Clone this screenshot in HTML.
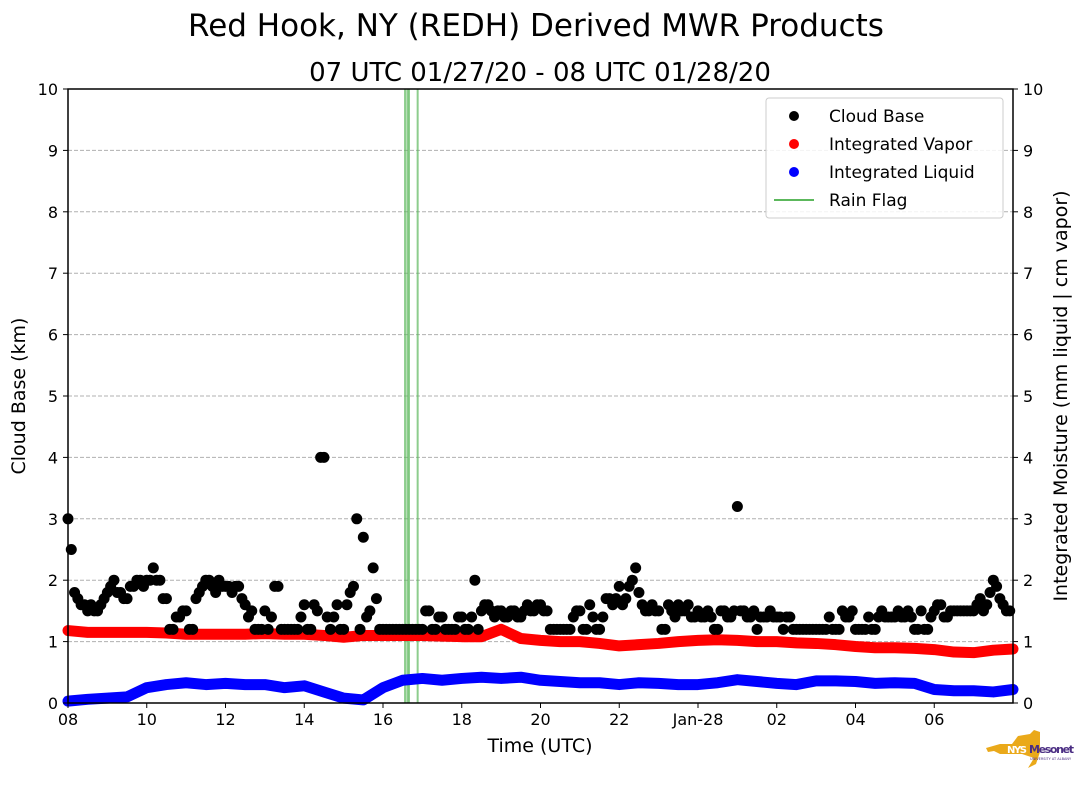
<!DOCTYPE html>
<html><head><meta charset="utf-8"><style>
body{margin:0;background:#fff;width:1089px;height:804px;overflow:hidden;font-family:"DejaVu Sans","Liberation Sans",sans-serif}
</style></head><body>
<svg id="chart" width="1089" height="804" xmlns="http://www.w3.org/2000/svg" font-family="DejaVu Sans, Liberation Sans, sans-serif">
<text x="536" y="36" font-size="31" text-anchor="middle">Red Hook, NY (REDH) Derived MWR Products</text>
<text x="540" y="81" font-size="26" text-anchor="middle">07 UTC 01/27/20 - 08 UTC 01/28/20</text>
<g id="grid"></g><g id="rain"></g><g id="marks"></g><g id="axes"></g>
<text x="540" y="752" font-size="19" text-anchor="middle">Time (UTC)</text>
<text transform="translate(25,396) rotate(-90)" font-size="19" text-anchor="middle">Cloud Base (km)</text>
<text transform="translate(1067,396) rotate(-90)" font-size="19" text-anchor="middle">Integrated Moisture (mm liquid | cm vapor)</text>
<g>
<rect x="766" y="98" width="237" height="120" rx="3" fill="#fff" fill-opacity="0.85" stroke="#ccc"/>
<circle cx="794" cy="116" r="5" fill="#000"/><text x="829" y="122" font-size="17">Cloud Base</text>
<circle cx="794" cy="144" r="5" fill="#f00"/><text x="829" y="150" font-size="17">Integrated Vapor</text>
<circle cx="794" cy="172" r="5" fill="#00f"/><text x="829" y="178" font-size="17">Integrated Liquid</text>
<line x1="774" y1="200" x2="814" y2="200" stroke="#5cb85c" stroke-width="2"/><text x="829" y="206" font-size="17">Rain Flag</text>
</g>
<g>
<path d="M986,748 L1000,744 L1012,744 L1018,736 L1030,734 L1034,730 L1040,732 L1040,752 L1036,764 L1028,768 L1034,758 L1022,754 L1000,754 L994,751 L988,752 Z" fill="#eaa91a"/>
<text x="1007" y="753" font-size="10" font-weight="bold" fill="#fff" textLength="20">NYS</text>
<text x="1029" y="753" font-size="11" font-weight="bold" fill="#4b2e83" textLength="45">Mesonet</text>
<text x="1030" y="760" font-size="3.5" fill="#4b2e83">UNIVERSITY AT ALBANY</text>
</g>
</svg>
<script>
const xTicks=["08","10","12","14","16","18","20","22","Jan-28","02","04","06"];
const yTicks=[0,1,2,3,4,5,6,7,8,9,10];
const cloudBase=[3.0,1.8,1.6,1.5,1.5,1.6, 1.8,2.0,1.8,1.7,1.9,2.0, 2.0,2.2,2.0,1.7,1.2,1.4, 1.5,1.2,1.8,2.0,1.9,2.0, 1.9,1.8,1.9,1.6,1.5,1.2, 1.5,1.4,1.9,1.2,1.2,1.2, 1.6,1.2,1.5,4.0,1.2,1.6, 1.2,1.8,3.0,2.7,1.5,1.7, 1.2,1.2,1.2,1.2,1.2,1.2, 1.2,1.5,1.2,1.4,1.2,1.2, 1.4,1.2,2.0,1.5,1.6,1.4, 1.5,1.4,1.5,1.4,1.6,1.5, 1.6,1.5,1.2,1.2,1.2,1.4, 1.5,1.2,1.4,1.2,1.7,1.6, 1.9,1.7,2.0,1.8,1.5,1.6, 1.5,1.2,1.5,1.6,1.5,1.4, 1.5,1.4,1.4,1.2,1.5,1.4, 3.2,1.5,1.4,1.2,1.4,1.5, 1.4,1.2,1.4,1.2,1.2,1.2, 1.2,1.2,1.4,1.2,1.5,1.4, 1.2,1.2,1.4,1.2,1.5,1.4, 1.4,1.4,1.5,1.2,1.5,1.2, 1.5,1.6,1.4,1.5,1.5,1.5, 1.5,1.7,1.6,2.0,1.7,1.5];
const cloudBase2=[2.5,1.7,1.6,1.6,1.5,1.7, 1.9,1.8,1.7,1.9,2.0,1.9, 2.0,2.0,1.7,1.2,1.4,1.5, 1.2,1.7,1.9,2.0,1.8,1.9, 1.9,1.9,1.7,1.4,1.2,1.2, 1.2,1.9,1.2,1.2,1.2,1.4, 1.2,1.6,4.0,1.4,1.4,1.2, 1.6,1.9,1.2,1.4,2.2,1.2, 1.2,1.2,1.2,1.2,1.2,1.2, 1.5,1.2,1.4,1.2,1.2,1.4, 1.2,1.4,1.2,1.6,1.5,1.5, 1.4,1.5,1.4,1.5,1.5,1.6, 1.5,1.2,1.2,1.2,1.2,1.5, 1.2,1.6,1.2,1.4,1.7,1.7, 1.6,1.9,2.2,1.6,1.5,1.5, 1.2,1.6,1.4,1.5,1.6,1.4, 1.4,1.5,1.2,1.5,1.4,1.5, 1.5,1.4,1.5,1.4,1.4,1.4, 1.4,1.4,1.2,1.2,1.2,1.2, 1.2,1.2,1.2,1.2,1.4,1.5, 1.2,1.2,1.2,1.4,1.4,1.4, 1.5,1.4,1.4,1.2,1.2,1.4, 1.6,1.4,1.5,1.5,1.5,1.5, 1.6,1.5,1.8,1.9,1.6,1.5];
const vapor=[1.18,1.15,1.15,1.15,1.15,1.14,1.12,1.12,1.12,1.12,1.13,1.12,1.12,1.10,1.07,1.10,1.10,1.10,1.10,1.09,1.08,1.08,1.20,1.05,1.02,1.00,1.00,0.97,0.93,0.95,0.97,1.00,1.02,1.03,1.02,1.00,1.00,0.98,0.97,0.95,0.92,0.90,0.90,0.89,0.87,0.83,0.82,0.86,0.88];
const liquid=[0.03,0.06,0.08,0.10,0.25,0.30,0.33,0.30,0.32,0.30,0.30,0.25,0.28,0.18,0.08,0.05,0.25,0.37,0.40,0.37,0.40,0.42,0.40,0.42,0.37,0.35,0.33,0.33,0.30,0.33,0.32,0.30,0.30,0.33,0.38,0.35,0.32,0.30,0.36,0.36,0.35,0.32,0.33,0.32,0.22,0.20,0.20,0.18,0.22];
const rainHours=[16.56,16.62,16.66,16.88];
const X0=68,X1=1013,Y0=703,Y1=89;
const xs=h=>X0+(h-8)/24*(X1-X0);
const ys=v=>Y0-v/10*(Y0-Y1);
const NS="http://www.w3.org/2000/svg";
function mk(parent,tag,attrs){const e=document.createElementNS(NS,tag);for(const k in attrs)e.setAttribute(k,attrs[k]);document.getElementById(parent).appendChild(e);return e;}
yTicks.forEach(v=>{
 if(v>0&&v<10){const g=mk('grid','line',{x1:X0,x2:X1,y1:ys(v),y2:ys(v),stroke:'#b0b0b0','stroke-dasharray':'4,2'});
 
 }
 const t=mk('axes','text',{x:X0-10,y:ys(v)+6,'font-size':16,'text-anchor':'end'});t.textContent=v;
 
 
 const t2=mk('axes','text',{x:X1+10,y:ys(v)+6,'font-size':16});t2.textContent=v;
 
 
 mk('axes','line',{x1:X0-5,x2:X0,y1:ys(v),y2:ys(v),stroke:'#000'});
 mk('axes','line',{x1:X1,x2:X1+5,y1:ys(v),y2:ys(v),stroke:'#000'});
});
xTicks.forEach((l,i)=>{const x=xs(8+i*2);
 mk('axes','line',{x1:x,x2:x,y1:Y0,y2:Y0+5,stroke:'#000'});
 const t=mk('axes','text',{x:x,y:Y0+22,'font-size':16,'text-anchor':'middle'});t.textContent=l;
 
 });
rainHours.forEach(h=>{const r=mk('rain','line',{x1:xs(h),x2:xs(h),y1:Y1,y2:Y0,stroke:'#5cb85c','stroke-width':2,'stroke-opacity':0.7});
 
 });
function series(arr,step,color,name){
 const pts=arr.map((v,i)=>xs(8+i*step)+','+ys(v)).join(' ');
 const p=mk('marks','polyline',{points:pts,fill:'none',stroke:color,'stroke-width':11,'stroke-linejoin':'round','stroke-linecap':'round'});
 
 }
series(vapor,0.5,'#f00','integrated-vapor-series');
series(liquid,0.5,'#00f','integrated-liquid-series');
cloudBase.forEach((v,i)=>{const c=mk('marks','circle',{cx:xs(8+i/6),cy:ys(v),r:5.5,fill:'#000'});
 
 });
cloudBase2.forEach((v,i)=>{const c=mk('marks','circle',{cx:xs(8+i/6+1/12),cy:ys(v),r:5.5,fill:'#000'});
 
 });
const fr=mk('axes','rect',{x:X0,y:Y1,width:X1-X0,height:Y0-Y1,fill:'none',stroke:'#000','stroke-width':1.5});


</script>
</body></html>
